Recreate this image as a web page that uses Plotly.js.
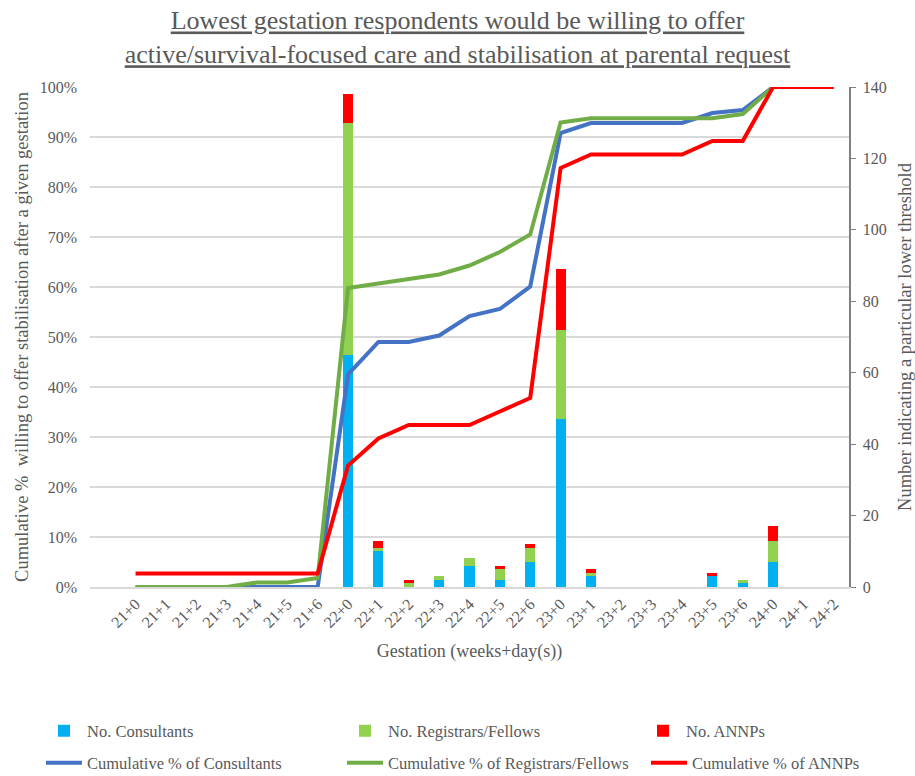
<!DOCTYPE html>
<html>
<head>
<meta charset="utf-8">
<script src="https://cdn.plot.ly/plotly-3.0.1.min.js"></script>
<style>body{margin:0;background:#fff}#chart{width:915px;height:776px}</style>
</head>
<body>
<div id="chart"></div>
<script>
const gestation = ['21+0','21+1','21+2','21+3','21+4','21+5','21+6',
  '22+0','22+1','22+2','22+3','22+4','22+5','22+6',
  '23+0','23+1','23+2','23+3','23+4','23+5','23+6',
  '24+0','24+1','24+2'];

const noConsultants = [0,0,0,0,0,0,0, 65,10,0,2,6,2,7, 47,3,0,0,0,3,1, 7,0,0];
const noRegistrars  = [0,0,0,0,0,0,0, 65,1,1,1,2,3,4, 25,1,0,0,0,0,1, 6,0,0];
const noANNPs       = [0,0,0,0,0,0,0, 8,2,1,0,0,1,1, 17,1,0,0,0,1,0, 4,0,0];

const cumConsultants = [0,0,0,0,0,0,0, 42.5,49.0,49.0,50.3,54.2,55.6,60.1, 90.8,92.8,92.8,92.8,92.8,94.8,95.4, 100];
const cumRegistrars  = [0,0,0,0,0.9,0.9,1.8, 59.8,60.7,61.6,62.5,64.3,67.0,70.5, 92.9,93.75,93.75,93.75,93.75,93.75,94.6, 100];
const cumANNPs       = [2.7,2.7,2.7,2.7,2.7,2.7,2.7, 24.3,29.7,32.4,32.4,32.4,35.1,37.8, 83.8,86.5,86.5,86.5,86.5,89.2,89.2, 100,100,100];

const pos = gestation.map((g, i) => i + 1);
const serif = 'Liberation Serif';
const grey = '#595959';

function bar(name, y, color, legend) {
  return {type:'bar', name:name, x:pos, y:y, yaxis:'y', width:0.33,
    marker:{color:color, line:{width:0}}, legend:legend, hoverinfo:'y'};
}
function line(name, y, color, legend) {
  return {type:'scatter', mode:'lines', name:name, x:pos.slice(0, y.length), y:y.map(v => v/100),
    yaxis:'y2', line:{color:color, width:4}, legend:legend};
}

const data = [
  bar('No. Consultants', noConsultants, '#00B0F0', 'legend'),
  bar('No. Registrars/Fellows', noRegistrars, '#92D050', 'legend2'),
  bar('No. ANNPs', noANNPs, '#FF0000', 'legend3'),
  line('Cumulative % of Consultants', cumConsultants, '#4472C4', 'legend4'),
  line('Cumulative % of Registrars/Fellows', cumRegistrars, '#70AD47', 'legend5'),
  line('Cumulative % of ANNPs', cumANNPs, '#FF0000', 'legend6')
];

function leg(xpx, ypx) {
  return {orientation:'h', xref:'container', yref:'container', xanchor:'left', yanchor:'middle',
    x:xpx/915, y:1 - ypx/776, itemwidth:36,
    font:{family:serif, size:16.5, color:grey}, bgcolor:'rgba(0,0,0,0)'};
}

const layout = {
  width:915, height:776,
  margin:{l:90, r:66, t:87, b:189},
  paper_bgcolor:'#fff', plot_bgcolor:'#fff',
  barmode:'stack',
  showlegend:true,
  font:{family:serif, color:grey},
  title:{text:'<u>Lowest gestation respondents would be willing to offer</u><br><u>active/survival-focused care and stabilisation at parental request</u>',
    x:0.5, xanchor:'center', y:0.962, yanchor:'top', font:{family:serif, size:26, color:grey}},
  xaxis:{range:[-0.5, 24.5], tickmode:'array', tickvals:pos, ticktext:gestation, tickangle:-45,
    showgrid:false, zeroline:false, showline:true, linecolor:'#D9D9D9', linewidth:1.5, ticks:'',
    tickfont:{family:serif, size:16, color:grey},
    title:{text:'Gestation (weeks+day(s))', font:{family:serif, size:18, color:grey}, standoff:14}},
  yaxis:{side:'right', range:[0,140], dtick:20, showgrid:false, zeroline:false,
    showline:true, linecolor:'#808080', linewidth:1.5, ticks:'outside', ticklen:5, tickcolor:'#808080',
    ticklabelstandoff:4, tickfont:{family:serif, size:16, color:grey},
    title:{text:'Number indicating a particular lower threshold', font:{family:serif, size:18.5, color:grey}, standoff:14}},
  yaxis3:{overlaying:'y', side:'right', range:[0,140], dtick:20, showgrid:false, zeroline:false,
    showline:false, ticks:'inside', ticklen:5, tickcolor:'#808080', showticklabels:false},
  yaxis2:{overlaying:'y', side:'left', range:[0,1], dtick:0.1, tickformat:'.0%',
    showgrid:true, gridcolor:'#D9D9D9', gridwidth:1.5, zeroline:false, showline:false, ticks:'',
    ticklabelstandoff:12, tickfont:{family:serif, size:16, color:grey},
    title:{text:'Cumulative %  willing to offer stabilisation after a given gestation', font:{family:serif, size:18.5, color:grey}, standoff:6}},
  legend:leg(41, 731),
  legend2:leg(342, 731),
  legend3:leg(640, 731),
  legend4:leg(41, 763),
  legend5:leg(342, 763),
  legend6:leg(646, 763)
};

Plotly.newPlot('chart', data, layout, {displayModeBar:false, staticPlot:true});
</script>
</body>
</html>
